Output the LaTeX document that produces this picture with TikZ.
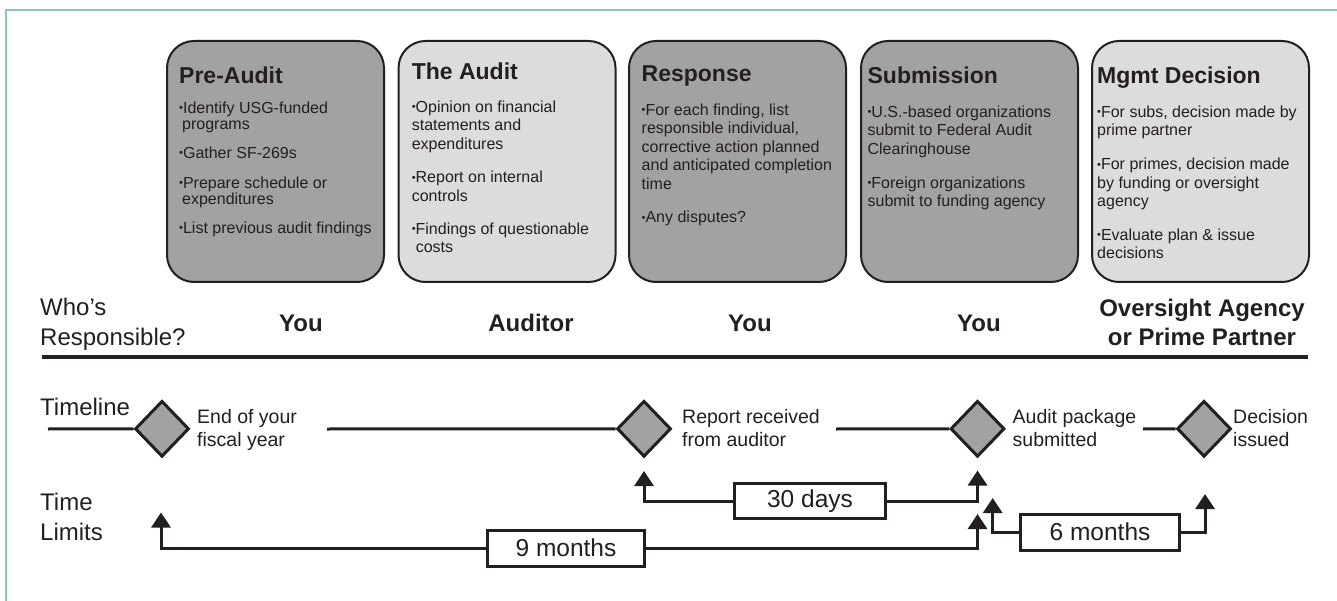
\documentclass[tikz,border=0pt]{standalone}
\usepackage{fontspec}
\setmainfont{Liberation Sans}
\usetikzlibrary{shapes.geometric,arrows.meta}
\definecolor{framecol}{HTML}{8CC5BF}
\definecolor{darkfill}{HTML}{A2A2A2}
\definecolor{lightfill}{HTML}{DCDCDC}
\definecolor{ink}{HTML}{231F20}
\newcommand\bul{\raisebox{1.2pt}{\fontsize{11}{11}\selectfont\char"2022}}
\newcommand\fstrut[1]{\rule{0pt}{#1}}
\begin{document}
\begin{tikzpicture}[x=1pt,y=-1pt,
  every node/.style={text=ink},
  stage/.style={draw=ink, line width=2pt, rounded corners=27pt, minimum width=217pt,
    minimum height=241pt, anchor=north west, inner sep=0pt},
  stagetitle/.style={anchor=base west, inner sep=0pt, font=\fontsize{23}{27}\selectfont\bfseries},
  stagebody/.style={anchor=north west, inner sep=0pt, align=left, font=\fontsize{16}{18.5}\selectfont},
  who/.style={anchor=base, inner sep=0pt, font=\fontsize{24}{29}\selectfont\bfseries},
  rowlabel/.style={anchor=north west, inner sep=0pt, align=left, font=\fontsize{24}{30}\selectfont},
  dia/.style={shape=diamond, draw=ink, fill=darkfill, line width=3pt, minimum width=54pt,
    minimum height=56pt, inner sep=0pt},
  tlline/.style={draw=ink, line width=3pt},
  evlabel/.style={anchor=north west, inner sep=0pt, align=left, font=\fontsize{19.5}{23.5}\selectfont},
  limbox/.style={draw=ink, line width=3pt, fill=white, inner sep=0pt, font=\fontsize{24.5}{28}\selectfont},
  limarrow/.style={draw=ink, line width=3pt, -{Triangle[width=19pt,length=15pt]}}
]
\useasboundingbox (0,0) rectangle (1337,601);
% frame
\draw[framecol, line width=1.5pt] (1337,10) -- (6,10) -- (6,601);

% stage boxes
\node[stage, fill=darkfill]  (pre)  at (166,40) {};
\node[stage, fill=lightfill] (aud)  at (397.5,40) {};
\node[stage, fill=darkfill]  (resp) at (628,40) {};
\node[stage, fill=darkfill]  (sub)  at (860,40) {};
\node[stage, fill=lightfill] (mgmt) at (1091,40) {};

% titles
\node[stagetitle] (preT)  at (179,83.5) {Pre-Audit};
\node[stagetitle] (audT)  at (411.6,80) {The Audit};
\node[stagetitle] (respT) at (641.5,81.7) {Response};
\node[stagetitle] (subT)  at (867.4,84) {Submission};
\node[stagetitle] (mgmtT) at (1097,84) {Mgmt Decision};

% bodies
\node[stagebody, font=\fontsize{16}{16}\selectfont] (preB) at (179,99) {\fstrut{14pt}\bul Identify USG-funded\\
\hspace*{3pt}programs\\[13pt]
\bul Gather SF-269s\\[14pt]
\bul Prepare schedule or\\
\hspace*{3pt}expenditures\\[13pt]
\bul List previous audit findings};

\node[stagebody] (audB) at (411.6,98) {\fstrut{14pt}\bul Opinion on financial\\
statements and\\
expenditures\\[15pt]
\bul Report on internal\\
controls\\[14.5pt]
\bul Findings of questionable\\
\hspace*{4pt}costs};

\node[stagebody] (respB) at (641.5,101) {\fstrut{14pt}\bul For each finding, list\\
responsible individual,\\
corrective action planned\\
and anticipated completion\\
time\\[15pt]
\bul Any disputes?};

\node[stagebody] (subB) at (867.4,103) {\fstrut{14pt}\bul U.S.-based organizations\\
submit to Federal Audit\\
Clearinghouse\\[15.5pt]
\bul Foreign organizations\\
submit to funding agency};

\node[stagebody] (mgmtB) at (1097,103) {\fstrut{14pt}\bul For subs, decision made by\\
prime partner\\[15.5pt]
\bul For primes, decision made\\
by funding or oversight\\
agency\\[15pt]
\bul Evaluate plan \& issue\\
decisions};

% who's responsible
\node[rowlabel] (whoL) at (40,295) {\fstrut{20pt}Who’s\\Responsible?};
\node[who] (w1) at (301,331.7) {You};
\node[who] (w2) at (531,331.7) {Auditor};
\node[who] (w3) at (750,331.7) {You};
\node[who] (w4) at (979,331.7) {You};
\node[anchor=north, inner sep=0pt, align=center, font=\fontsize{24}{29}\selectfont\bfseries] (w5) at (1202,296) {\fstrut{20pt}Oversight Agency\\or Prime Partner};
\coordinate (ruleL) at (41.5,357);
\coordinate (ruleR) at (1308,357);
\draw[draw=ink, line width=3.5pt] (ruleL) -- (ruleR);

% timeline
\node[anchor=base west, inner sep=0pt, font=\fontsize{24}{30}\selectfont] (tlL) at (40,415) {Timeline};
\node[dia] (d1) at (162,428.8) {};
\node[dia] (d2) at (644,428.8) {};
\node[dia] (d3) at (977.5,428.8) {};
\node[dia] (d4) at (1204,428.8) {};
\coordinate (t0) at (48,429);
\coordinate (t1) at (327,429);
\coordinate (t2) at (836,429);
\coordinate (t3) at (1143,429);
\draw[tlline] (t0) -- (d1.west);
\draw[tlline] (t1) -- (d2.west);
\draw[tlline] (t2) -- (d3.west);
\draw[tlline] (t3) -- (d4.west);
\node[evlabel] (e1) at (197,408) {\fstrut{15pt}End of your\\fiscal year};
\node[evlabel] (e2) at (682,408) {\fstrut{15pt}Report received\\from auditor};
\node[evlabel] (e3) at (1012.5,408) {\fstrut{15pt}Audit package\\submitted};
\node[evlabel] (e4) at (1233,408) {\fstrut{15pt}Decision\\issued};

% time limits
\node[rowlabel] (limL) at (40,490) {\fstrut{20pt}Time\\Limits};
\node[limbox, minimum width=157pt, minimum height=36pt] (m9)  at (566,548) {9 months};
\node[limbox, minimum width=151pt, minimum height=35pt] (m30) at (810,501) {30 days};
\node[limbox, minimum width=159pt, minimum height=36pt] (m6)  at (1100,532) {6 months};
\coordinate (a1) at (161,512.5);
\coordinate (a2) at (644,471);
\coordinate (a3) at (977.5,470.5);
\coordinate (a4) at (977.5,514);
\coordinate (a5) at (992.7,498);
\coordinate (a6) at (1205,494);
\draw[limarrow] (m9.west) -| (a1);
\draw[limarrow] (m9.east) -| (a4);
\draw[limarrow] (m30.west) -| (a2);
\draw[limarrow] (m30.east) -| (a3);
\draw[limarrow] (m6.west) -| (a5);
\draw[limarrow] (m6.east) -| (a6);
\end{tikzpicture}
\end{document}
